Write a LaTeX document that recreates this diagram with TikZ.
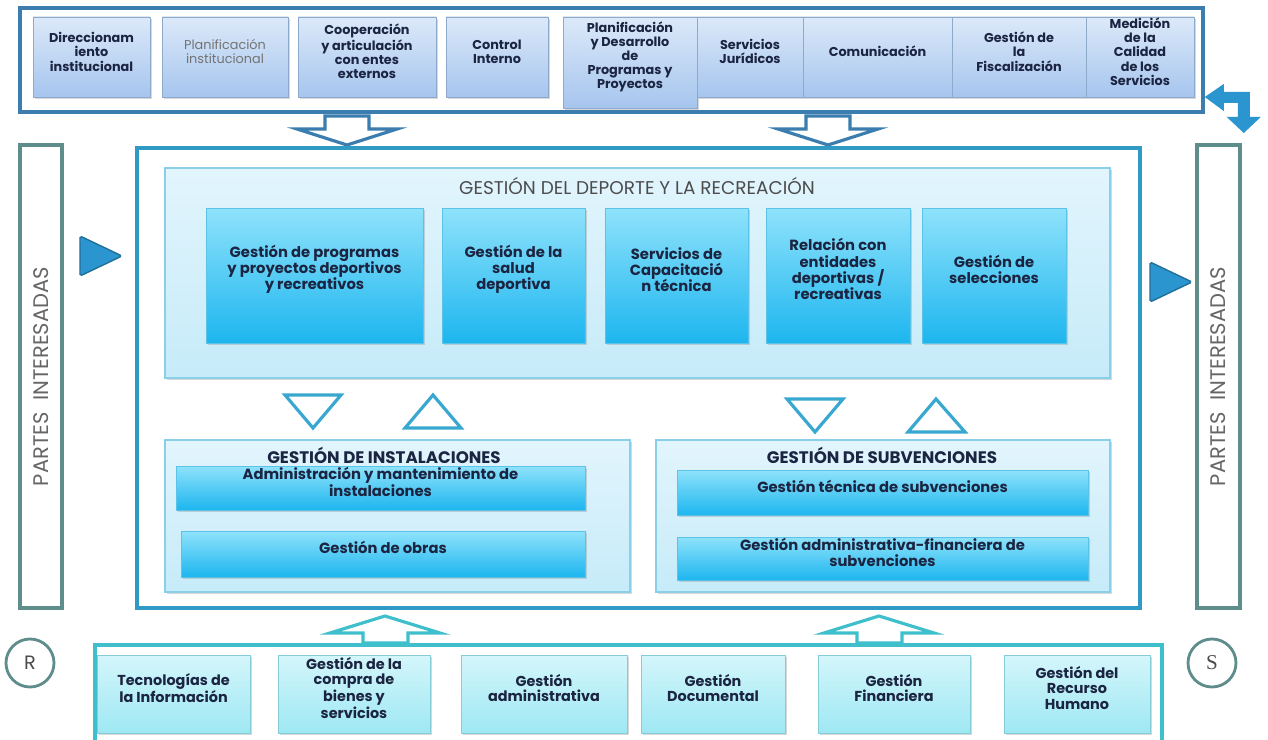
\documentclass[tikz,border=0pt]{standalone}
\usepackage{fontspec}
\setmainfont{Poppins}
\newfontfamily\serifletter{Liberation Serif}
\usetikzlibrary{fit,shadows}
\definecolor{bandblue}{HTML}{3A7DAE}
\definecolor{frameblue}{HTML}{2F9BC4}
\definecolor{paneltop}{HTML}{E2F5FD}
\definecolor{panelbot}{HTML}{C6EBF9}
\definecolor{paneledge}{HTML}{8ACFE8}
\definecolor{skytop}{HTML}{8FE2FB}
\definecolor{skybot}{HTML}{1DB6EF}
\definecolor{skyedge}{HTML}{5CC3E8}
\definecolor{lavtop}{HTML}{DCE9F9}
\definecolor{lavbot}{HTML}{A6C5EE}
\definecolor{lavedge}{HTML}{8EAACB}
\definecolor{aquatop}{HTML}{D4F6FB}
\definecolor{aquabot}{HTML}{9EE8F3}
\definecolor{aquaedge}{HTML}{86CCD6}
\definecolor{tealband}{HTML}{3EBFCB}
\definecolor{greyteal}{HTML}{5E8D8B}
\definecolor{navytext}{HTML}{1B2440}
\definecolor{arrowblue}{HTML}{2B95CF}
\definecolor{trianglered}{HTML}{39A8D0}

\begin{document}
\begin{tikzpicture}[x=0.02cm, y=-0.02cm,
  shade/.style={drop shadow={opacity=.3, shadow xshift=1pt, shadow yshift=-1.2pt}},
  topbox/.style={shade, draw=lavedge, top color=lavtop, bottom color=lavbot, inner sep=0pt, align=center, text=navytext, font=\bfseries\fontsize{7.3}{8}\selectfont},
  skybox/.style={shade, draw=skyedge, top color=skytop, bottom color=skybot, inner sep=0pt, align=center, text=navytext, font=\bfseries\fontsize{8.4}{9.3}\selectfont},
  aquabox/.style={shade, draw=aquaedge, top color=aquatop, bottom color=aquabot, inner sep=0pt, align=center, text=navytext, font=\bfseries\fontsize{8.2}{8.6}\selectfont},
  panel/.style={shade, draw=paneledge, line width=.8pt, top color=paneltop, bottom color=panelbot, inner sep=0pt},
  outarrow/.style={draw=#1, line width=1.8pt, fill=white, line join=miter},
  hollowtri/.style={draw=trianglered, line width=1.8pt, fill=white},
  solidtri/.style={fill=arrowblue, draw=arrowblue!75!black, line width=.8pt, rounded corners=1pt},
  partes/.style={draw=greyteal, line width=1.8pt, inner sep=0pt},
  roundlabel/.style={circle, draw=greyteal, line width=1.6pt, minimum size=0.96cm, text=black!70, font=\fontsize{11}{12}\selectfont}]
\path[use as bounding box, clip] (0,0) rectangle (1268,740);
\fill[white] (0,0) rectangle (1268,740);

% estrategicos
\node[draw=bandblue, line width=2pt, inner sep=0pt, fit={(20,8) (1203,112)}] (top) {};
\begin{scope}
\node[topbox, fit={(33,17) (150,97)}] (dir) {Direccionam\\iento\\institucional};
\node[topbox, fit={(162,17) (288,97)}, font=\fontsize{7.3}{8}\selectfont, text=black!55] (plan) {Planificación\\institucional};
\node[topbox, fit={(298,17) (436,97)}] (coop) {Cooperación\\y articulación\\con entes\\externos};
\node[topbox, fit={(446,17) (548,97)}] (ctrl) {Control\\Interno};
\node[topbox, fit={(563,17) (697,108)}] (pdp) {Planificación\\y Desarrollo\\de\\Programas y\\Proyectos};
\node[topbox, fit={(697,17) (803,97)}] (jur) {Servicios\\Jurídicos};
\node[topbox, fit={(803,17) (952,97)}] (com) {Comunicación};
\node[topbox, fit={(952,17) (1086,97)}] (fis) {Gestión de\\la\\Fiscalización};
\node[topbox, fit={(1086,17) (1194,97)}] (med) {Medición\\de la\\Calidad\\de los\\Servicios};
\end{scope}
\fill[arrowblue] (top.east |- 0,97) -- ++(19,-13) -- ++(0,8) -- ++(26,0) -- ++(0,25) -- ++(11,0) -- ++(-17,16) -- ++(-17,-16) -- ++(11,0) -- ++(0,-14) -- ++(-14,0) -- ++(0,8) -- cycle;

% flechas hacia el centro
\coordinate (d1) at (347,116);
\coordinate (d2) at (828,116);
\draw[outarrow=bandblue] (d1) ++(-22,0) -- ++(44,0) -- ++(0,13) -- ++(28,0) -- ++(-50,16) -- ++(-50,-16) -- ++(28,0) -- cycle;
\draw[outarrow=bandblue] (d2) ++(-22,0) -- ++(44,0) -- ++(0,13) -- ++(28,0) -- ++(-50,16) -- ++(-50,-16) -- ++(28,0) -- cycle;

% partes interesadas
\node[partes, fit={(20,145) (62,608)}] (pil) {};
\node[partes, fit={(1197,145) (1240,608)}] (pir) {};
\node[rotate=90, text=black!60, font=\fontsize{12}{13}\selectfont] (pilt) at (pil.center) {PARTES~~INTERESADAS};
\node[rotate=90, text=black!60, font=\fontsize{12}{13}\selectfont] (pirt) at (pir.center) {PARTES~~INTERESADAS};
\draw[solidtri] (80,236) -- (122,256) -- (80,276) -- cycle;
\draw[solidtri] (1150,262) -- (1192,282) -- (1150,302) -- cycle;

% misionales
\node[draw=frameblue, line width=1.8pt, inner sep=0pt, fit={(137,148) (1140,608)}] (mis) {};
\node[panel, fit={(165,168) (1110,378)}] (dep) {};
\node[text=black!70, font=\fontsize{10.5}{11}\selectfont] (dept) at (637,186) {GESTIÓN DEL DEPORTE Y LA RECREACIÓN};
\begin{scope}
\node[skybox, fit={(206,208) (423,343)}] (prog) {Gestión de programas\\y proyectos deportivos\\y recreativos};
\node[skybox, fit={(442,208) (585,343)}] (salud) {Gestión de la\\salud\\deportiva};
\node[skybox, fit={(605,208) (748,343)}] (cap) {Servicios de\\Capacitació\\n técnica};
\node[skybox, fit={(766,208) (910,343)}] (rel) {Relación con\\entidades\\deportivas /\\recreativas};
\node[skybox, fit={(922,208) (1066,343)}] (sel) {Gestión de\\selecciones};
\end{scope}
\draw[hollowtri] (285,395) -- (341,395) -- (313,428) -- cycle;
\draw[hollowtri] (405,428) -- (461,428) -- (433,395) -- cycle;
\draw[hollowtri] (787,399) -- (843,399) -- (815,432) -- cycle;
\draw[hollowtri] (908,432) -- (965,432) -- (936,399) -- cycle;

\node[panel, fit={(165,440) (630,592)}] (inst) {};
\node[text=navytext, font=\bfseries\fontsize{9.5}{10}\selectfont] (instt) at (384,455) {GESTIÓN DE INSTALACIONES};
\node[skybox, fit={(176,466) (585,510)}] (adm) {Administración y mantenimiento de\\instalaciones};
\node[skybox, fit={(181,531) (585,577)}] (obras) {Gestión de obras};

\node[panel, fit={(656,440) (1110,592)}] (subv) {};
\node[text=navytext, font=\bfseries\fontsize{9.5}{10}\selectfont] (subvt) at (882,455) {GESTIÓN DE SUBVENCIONES};
\node[skybox, fit={(677,470) (1088,515)}] (tec) {Gestión técnica de subvenciones};
\node[skybox, fit={(677,537) (1088,580)}] (fin) {Gestión administrativa-financiera de\\subvenciones};

% flechas de apoyo
\coordinate (u1) at (385,616);
\coordinate (u2) at (879,616);
\draw[outarrow=tealband] (u1) -- ++(55,17) -- ++(-32,0) -- ++(0,10) -- ++(-45,0) -- ++(0,-10) -- ++(-33,0) -- cycle;
\draw[outarrow=tealband] (u2) -- ++(55,17) -- ++(-32,0) -- ++(0,10) -- ++(-45,0) -- ++(0,-10) -- ++(-33,0) -- cycle;

% apoyo
\draw[tealband, line width=2pt] (95,760) -- (95,645) -- (1162,645) -- (1162,760);
\begin{scope}
\node[aquabox, fit={(97,655) (250,733)}] (ti) {Tecnologías de\\la Información};
\node[aquabox, fit={(278,655) (430,733)}] (compra) {Gestión de la\\compra de\\bienes y\\servicios};
\node[aquabox, fit={(461,655) (627,733)}] (gadm) {Gestión\\administrativa};
\node[aquabox, fit={(641,655) (785,733)}] (doc) {Gestión\\Documental};
\node[aquabox, fit={(818,655) (970,733)}] (gfin) {Gestión\\Financiera};
\node[aquabox, fit={(1004,655) (1150,733)}] (rh) {Gestión del\\Recurso\\Humano};
\end{scope}
\node[roundlabel] (r) at (30,663) {R};
\node[roundlabel, font=\serifletter\fontsize{12}{13}\selectfont] (s) at (1212,663) {S};
\end{tikzpicture}
\end{document}
